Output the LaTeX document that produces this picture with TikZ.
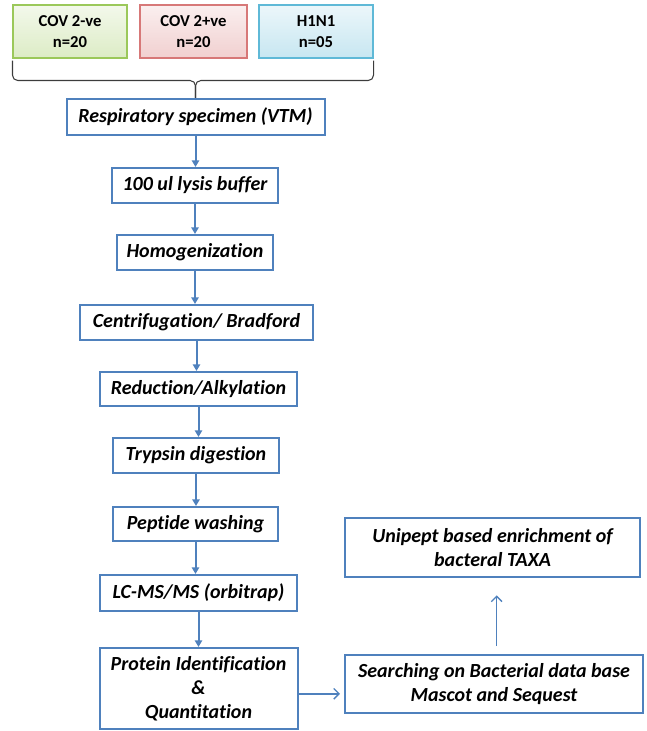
\documentclass[tikz,border=0pt]{standalone}
\usepackage{fontspec}
\setmainfont{Carlito}[Ligatures=NoCommon]
\usetikzlibrary{arrows.meta}
\definecolor{cbox}{RGB}{79,129,189}
\definecolor{cgreen}{RGB}{155,200,90}
\definecolor{cred}{RGB}{215,120,120}
\definecolor{cblue}{RGB}{95,185,215}
\definecolor{cbrace}{RGB}{60,60,60}

\begin{document}
\begin{tikzpicture}[
  x=0.75pt,y=-0.75pt,
  font=\bfseries\itshape\fontsize{15}{18}\selectfont,
  stepbox/.style={draw=cbox,line width=1.5pt,fill=white,inner sep=0pt,align=center,minimum height=26.25pt},
  grp/.style={draw=#1,line width=0.8pt,top color=#1!12,bottom color=#1!35,inner sep=0pt,align=center,
    minimum width=85.5pt,minimum height=39.75pt,font=\bfseries\fontsize{12.5}{16}\selectfont},
  flow/.style={-{Triangle[length=5pt,width=5.5pt]},cbox,line width=1.5pt},
  link/.style={-{Straight Barb[length=4pt,width=8pt]},cbox,line width=1pt},
  brc/.style={cbrace,line width=0.8pt,rounded corners=4pt},
]
\useasboundingbox (0,0) rectangle (646,731);

% sample groups
\node[grp=cgreen] (neg) at (70,31.5) {COV 2-ve\\n=20};
\node[grp=cred,minimum width=80.25pt] (pos) at (193.5,31.5) {COV 2+ve\\n=20};
\node[grp=cblue] (flu) at (316,31.5) {H1N1\\n=05};

% workflow spine
\node[stepbox,minimum width=193.5pt,minimum height=27pt] (spec) at (195.5,117) {Respiratory specimen (VTM)};
\node[stepbox,minimum width=124.5pt] (lysis) at (195,185.5) {100 ul lysis buffer};
\node[stepbox,minimum width=117pt] (homog) at (195,252.5) {Homogenization};
\node[stepbox,minimum width=174.75pt] (centr) at (196.5,322.5) {Centrifugation/ Bradford};
\node[stepbox,minimum width=147.75pt,minimum height=25.5pt] (redu) at (198.5,389) {Reduction/Alkylation};
\node[stepbox,minimum width=124.5pt] (tryp) at (196,455.5) {Trypsin digestion};
\node[stepbox,minimum width=123.75pt,minimum height=25.5pt] (pept) at (195.5,524) {Peptide washing};
\node[stepbox,minimum width=147.75pt,minimum height=27pt] (lcms) at (198.5,593) {LC-MS/MS (orbitrap)};
\node[stepbox,minimum width=148.5pt,minimum height=60.75pt] (prot) at (198.5,688.5) {Protein Identification\\\&\\Quantitation};

% database side
\node[stepbox,minimum width=223.5pt,minimum height=43.5pt] (search) at (494,684) {Searching on Bacterial data base\\Mascot and Sequest};
\node[stepbox,minimum width=221.25pt,minimum height=44.25pt] (unip) at (492.5,547.5) {Unipept based enrichment of\\bacteral TAXA};

% brace joining the groups
\draw[brc] ([yshift=-1.5pt]neg.south west) -- ++(0,20) -| (spec.north);
\draw[brc] ([yshift=-1.5pt]flu.south east) -- ++(0,20) -| (spec.north);

\draw[flow] (spec.south) -- (spec.south |- lysis.north);
\draw[flow] (lysis.south) -- (lysis.south |- homog.north);
\draw[flow] (homog.south) -- (homog.south |- centr.north);
\draw[flow] (centr.south) -- (centr.south |- redu.north);
\draw[flow] (redu.south) -- (redu.south |- tryp.north);
\draw[flow] (tryp.south) -- (tryp.south |- pept.north);
\draw[flow] (pept.south) -- (pept.south |- lcms.north);
\draw[flow] (lcms.south) -- (lcms.south |- prot.north);

\draw[link,shorten >=3pt] ([yshift=-4pt]prot.east) -- ([yshift=-4pt]prot.east -| search.west);
\draw[link,shorten <=6pt,shorten >=13pt] ([xshift=2pt]search.north) -- ([xshift=2pt]search.north |- unip.south);
\end{tikzpicture}
\end{document}
